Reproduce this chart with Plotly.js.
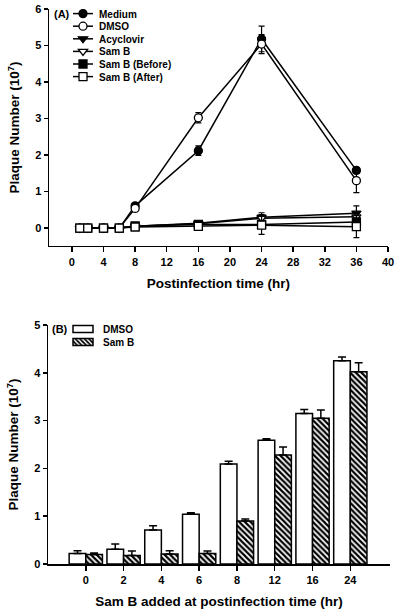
<!DOCTYPE html>
<html><head><meta charset="utf-8">
<script src="https://cdn.plot.ly/plotly-3.0.1.min.js"></script>
<style>html,body{margin:0;padding:0;background:#fff}#chart{width:400px;height:613px}</style>
</head><body><div id="chart"></div>
<script>
// Panel A data
const timesA = [1, 2, 4, 6, 8, 16, 24, 36];
const medium = [0, 0, 0, 0, 0.61, 2.12, 5.18, 1.58];
const mediumErr = [0, 0, 0, 0, 0.03, 0.13, 0.35, 0.08];
const dmso = [0, 0, 0, 0, 0.54, 3.02, 5.04, 1.30];
const dmsoErr = [0, 0, 0, 0, 0.03, 0.14, 0.26, 0.33];
const acyclovir = [0, 0, 0, 0, 0.05, 0.13, 0.30, 0.41];
const acyclovirErr = [0, 0, 0, 0, 0.02, 0.04, 0.12, 0.20];
const samB = [0, 0, 0, 0, 0.05, 0.12, 0.27, 0.31];
const samBErr = [0, 0, 0, 0, 0.02, 0.04, 0.10, 0.12];
const samBBefore = [0, 0, 0, 0, 0.06, 0.10, 0.10, 0.17];
const samBBeforeErr = [0, 0, 0, 0, 0.02, 0.03, 0.05, 0.06];
const samBAfter = [0, 0, 0, 0, 0.03, 0.05, 0.08, 0.04];
const samBAfterErr = [0, 0, 0, 0, 0.02, 0.04, 0.25, 0.30];
const namesA = ['Medium', 'DMSO', 'Acyclovir', 'Sam B', 'Sam B (Before)', 'Sam B (After)'];
const ticksA_x = [0, 4, 8, 12, 16, 20, 24, 28, 32, 36, 40];
const ticksA_y = [0, 1, 2, 3, 4, 5, 6];

// Panel B data
const catsB = ['0', '2', '4', '6', '8', '12', '16', '24'];
const dmsoB = [0.22, 0.31, 0.71, 1.04, 2.09, 2.59, 3.15, 4.25];
const dmsoBErr = [0.06, 0.11, 0.09, 0.03, 0.06, 0.03, 0.08, 0.08];
const samBB = [0.20, 0.18, 0.21, 0.22, 0.90, 2.28, 3.05, 4.02];
const samBBErr = [0.03, 0.09, 0.07, 0.05, 0.04, 0.17, 0.17, 0.19];
const namesB = ['DMSO', 'Sam B'];
const ticksB_y = [0, 1, 2, 3, 4, 5];

const FONT = 'Arial, "Liberation Sans", sans-serif';
const seriesA = [
  {y: medium, e: mediumErr, sym: 'circle', fill: 'black'},
  {y: dmso, e: dmsoErr, sym: 'circle', fill: 'white'},
  {y: acyclovir, e: acyclovirErr, sym: 'triangle-down', fill: 'black'},
  {y: samB, e: samBErr, sym: 'triangle-down', fill: 'white'},
  {y: samBBefore, e: samBBeforeErr, sym: 'square', fill: 'black'},
  {y: samBAfter, e: samBAfterErr, sym: 'square', fill: 'white'}
];
const traces = seriesA.map((s, i) => ({
  type: 'scatter', mode: 'lines+markers', name: namesA[i],
  x: timesA, y: s.y, xaxis: 'x', yaxis: 'y', legend: 'legend',
  line: {color: 'black', width: 1.5},
  marker: {symbol: s.sym, size: 8, color: s.fill, line: {color: 'black', width: 1.3}},
  error_y: {type: 'data', array: s.e, visible: true, color: 'black', thickness: 1.2, width: 3}
}));
traces.push({
  type: 'bar', name: namesB[0], x: catsB, y: dmsoB, xaxis: 'x2', yaxis: 'y2', legend: 'legend2',
  marker: {color: 'white', line: {color: 'black', width: 1.5}},
  error_y: {type: 'data', symmetric: false, array: dmsoBErr, arrayminus: dmsoBErr.map(() => 0), color: 'black', thickness: 1.5, width: 4}
});
traces.push({
  type: 'bar', name: namesB[1], x: catsB, y: samBB, xaxis: 'x2', yaxis: 'y2', legend: 'legend2',
  marker: {color: 'white', line: {color: 'black', width: 1.5},
    pattern: {shape: '\\', fgcolor: 'black', bgcolor: 'white', size: 4, solidity: 0.55}},
  error_y: {type: 'data', symmetric: false, array: samBBErr, arrayminus: samBBErr.map(() => 0), color: 'black', thickness: 1.5, width: 4}
});

const axBase = {
  showgrid: false, zeroline: false, showline: true, linecolor: 'black', linewidth: 1.5,
  ticks: 'outside', ticklen: 5, tickwidth: 1.5, tickcolor: 'black', automargin: false,
  tickfont: {family: FONT, size: 11, color: 'black', weight: 'bold'}
};
const titleFont = {family: FONT, size: 13.5, color: 'black', weight: 'bold'};
const yTitle = 'Plaque Number (10<sup>7</sup>)';

const layout = {
  width: 400, height: 613, margin: {l: 0, r: 0, t: 0, b: 0},
  paper_bgcolor: 'white', plot_bgcolor: 'white',
  font: {family: FONT, color: 'black'},
  bargap: 0.12, bargroupgap: 0, barmode: 'group',
  xaxis: Object.assign({}, axBase, {domain: [0.1225, 0.97], anchor: 'y', range: [-2.9, 40],
    tickmode: 'array', tickvals: ticksA_x,
    title: {text: 'Postinfection time (hr)', font: titleFont, standoff: 12}}),
  yaxis: Object.assign({}, axBase, {domain: [0.5987, 0.9853], anchor: 'x', range: [-0.49, 6],
    tickmode: 'array', tickvals: ticksA_y, ticklen: 4,
    title: {text: yTitle, font: titleFont, standoff: 12}}),
  xaxis2: Object.assign({}, axBase, {domain: [0.12, 0.975], anchor: 'y2', type: 'category', range: [-1, 8.05],
    title: {text: 'Sam B added at postinfection time (hr)', font: titleFont, standoff: 12}}),
  yaxis2: Object.assign({}, axBase, {domain: [0.0799, 0.4698], anchor: 'x2', range: [0, 5],
    tickmode: 'array', tickvals: ticksB_y, ticklen: 4,
    title: {text: yTitle, font: titleFont, standoff: 12}}),
  legend: {x: 0.1575, y: 0.995, xanchor: 'left', yanchor: 'top', bgcolor: 'rgba(0,0,0,0)',
    font: {family: FONT, size: 10, color: 'black', weight: 'bold'}, tracegroupgap: 0},
  legend2: {x: 0.1575, y: 0.475, xanchor: 'left', yanchor: 'top', bgcolor: 'rgba(0,0,0,0)',
    font: {family: FONT, size: 10, color: 'black', weight: 'bold'}, tracegroupgap: 0},
  annotations: [
    {text: '(A)', xref: 'paper', yref: 'paper', x: 0.13, y: 0.977, xanchor: 'left', yanchor: 'middle', showarrow: false,
      font: {family: FONT, size: 11, color: 'black', weight: 'bold'}},
    {text: '(B)', xref: 'paper', yref: 'paper', x: 0.125, y: 0.463, xanchor: 'left', yanchor: 'middle', showarrow: false,
      font: {family: FONT, size: 11, color: 'black', weight: 'bold'}}
  ]
};

// compact legend rows like the original (tighter spacing, shorter keys)
function tidyLegend(gd, cls, firstY, step) {
  const leg = gd.querySelector('.' + cls);
  if (!leg) return;
  const items = leg.querySelectorAll('.traces');
  items.forEach((it, i) => {
    const txt = it.querySelector('.legendtext');
    if (txt) txt.setAttribute('x', '36');
    it.querySelectorAll('.legendlines path').forEach(p => p.setAttribute('d', 'M10,0h20'));
    it.querySelectorAll('.legendpoints path.legendundefined, .legendpoints .legendbar path').forEach(p => p.setAttribute('d', 'M10,3.5H-10V-3.5H10Z'));
    const r = (txt || it).getBoundingClientRect();
    const cy = r.top + r.height / 2;
    const delta = (firstY + i * step) - cy;
    const tr = it.getAttribute('transform') || 'translate(0,0)';
    const m = tr.match(/translate\(\s*([-\d.e]+)[ ,]+([-\d.e]+)\s*\)/);
    const tx = m ? parseFloat(m[1]) : 0, ty = m ? parseFloat(m[2]) : 0;
    it.setAttribute('transform', 'translate(' + tx + ',' + (ty + delta) + ')');
  });
}
Plotly.newPlot('chart', traces, layout, {displayModeBar: false, staticPlot: true}).then(gd => {
  tidyLegend(gd, 'legend', 14, 12.6);
  tidyLegend(gd, 'legend2', 329, 13);
});
</script></body></html>
